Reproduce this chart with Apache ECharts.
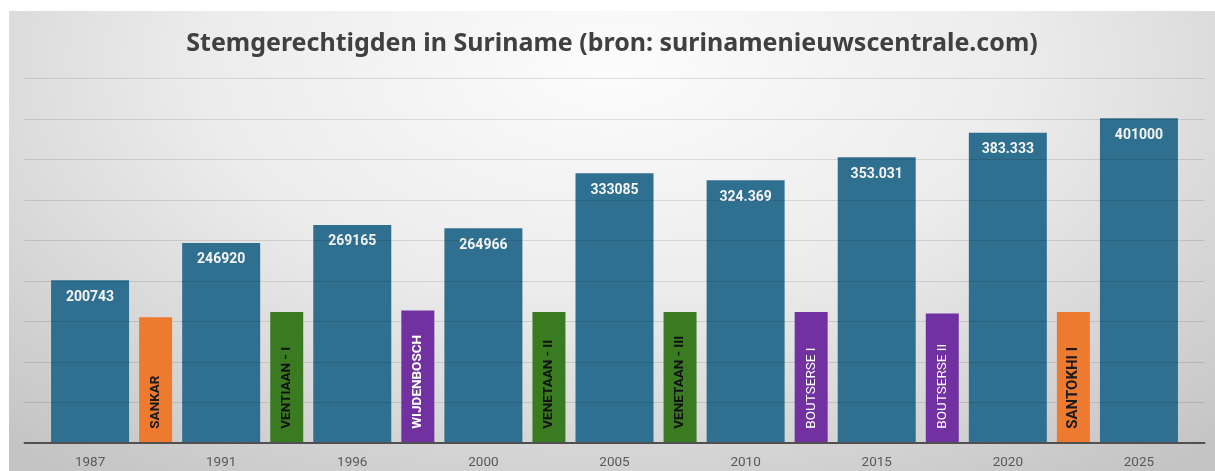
<!DOCTYPE html>
<html>
<head>
<meta charset="utf-8">
<script src="https://cdn.jsdelivr.net/npm/echarts@6/dist/echarts.min.js"></script>
<style>
  body { margin: 0; background: #fff; }
  #chart {
    position: absolute;
    left: 9px;
    top: 11px;
    width: 1206px;
    height: 460px;
    background: radial-gradient(ellipse 75% 110% at 50% 12%, #fcfcfc 0%, #ececec 45%, #d6d6d6 75%, #c4c4c4 100%);
  }
</style>
</head>
<body>
<div id="chart"></div>
<script>
// verkiezingsjaren en aantal stemgerechtigden
const years = ["1987", "1991", "1996", "2000", "2005", "2010", "2015", "2020", "2025"];
const voters = [200743, 246920, 269165, 264966, 333085, 324369, 353031, 383333, 401000];
const voterLabels = ["200743", "246920", "269165", "264966", "333085", "324.369", "353.031", "383.333", "401000"];

// presidenten tussen de verkiezingen (smalle balken)
const presidents = ["SANKAR", "VENTIAAN - I", "WIJDENBOSCH", "VENETAAN - II", "VENETAAN - III", "BOUTSERSE I", "BOUTSERSE II", "SANTOKHI I"];
const presidentBars = [155000, 161500, 163500, 161500, 161500, 161500, 159700, 161500];

const ORANGE = "#ee7a30";
const GREEN = "#3a7b22";
const PURPLE = "#7131a1";
const presidentColors = [ORANGE, GREEN, PURPLE, GREEN, GREEN, PURPLE, PURPLE, ORANGE];
const presidentTextColors = ["#1a1a1a", "#111", "#fff", "#111", "#111", "#fff", "#fff", "#1a1a1a"];

const chart = echarts.init(document.getElementById("chart"));

const presidentData = presidents.map((name, i) => ({
  name: name,
  value: [i + 0.5, presidentBars[i]],
  itemStyle: { color: presidentColors[i] },
  label: {
    color: presidentTextColors[i],
    fontSize: i === 7 ? 15 : 13.5,
    fontWeight: i === 5 || i === 6 ? "normal" : "bold",
  },
}));

chart.setOption({
  title: {
    text: "Stemgerechtigden in Suriname (bron: surinamenieuwscentrale.com)",
    left: "center",
    top: 15,
    textStyle: {
      fontFamily: "Noto Sans",
      fontWeight: "bold",
      fontSize: 25,
      color: "#404040",
    },
  },
  grid: {
    left: 15.5,
    width: 1180,
    top: 67.7,
    bottom: 28.3,
  },
  xAxis: [
    {
      type: "category",
      data: years,
      z: 6,
      axisLine: { lineStyle: { color: "#505050", width: 2 } },
      axisTick: { show: false },
      axisLabel: {
        margin: 13,
        fontFamily: "Roboto",
        fontSize: 13.5,
        color: "#595959",
      },
    },
    {
      type: "value",
      min: -0.5,
      max: 8.5,
      show: false,
    },
  ],
  yAxis: {
    type: "value",
    min: 0,
    max: 450000,
    interval: 50000,
    z: 3,
    axisLabel: { show: false },
    axisLine: { show: false },
    axisTick: { show: false },
    splitLine: { lineStyle: { color: "rgba(0,0,0,0.11)", width: 1 } },
  },
  series: [
    {
      type: "bar",
      xAxisIndex: 0,
      barWidth: 78,
      z: 2,
      data: voters,
      itemStyle: { color: "#2f7090" },
      label: {
        show: true,
        position: "insideTop",
        distance: 10,
        fontFamily: "Roboto",
        fontWeight: "bold",
        fontSize: 14,
        color: "#f4f4f4",
        formatter: (p) => voterLabels[p.dataIndex],
      },
    },
    {
      type: "bar",
      xAxisIndex: 1,
      barWidth: 33,
      z: 5,
      data: presidentData,
      label: {
        show: true,
        position: "insideBottom",
        distance: 14,
        rotate: 90,
        align: "left",
        verticalAlign: "middle",
        fontFamily: "Roboto",
        formatter: "{b}",
      },
    },
  ],
});
</script>
</body>
</html>
